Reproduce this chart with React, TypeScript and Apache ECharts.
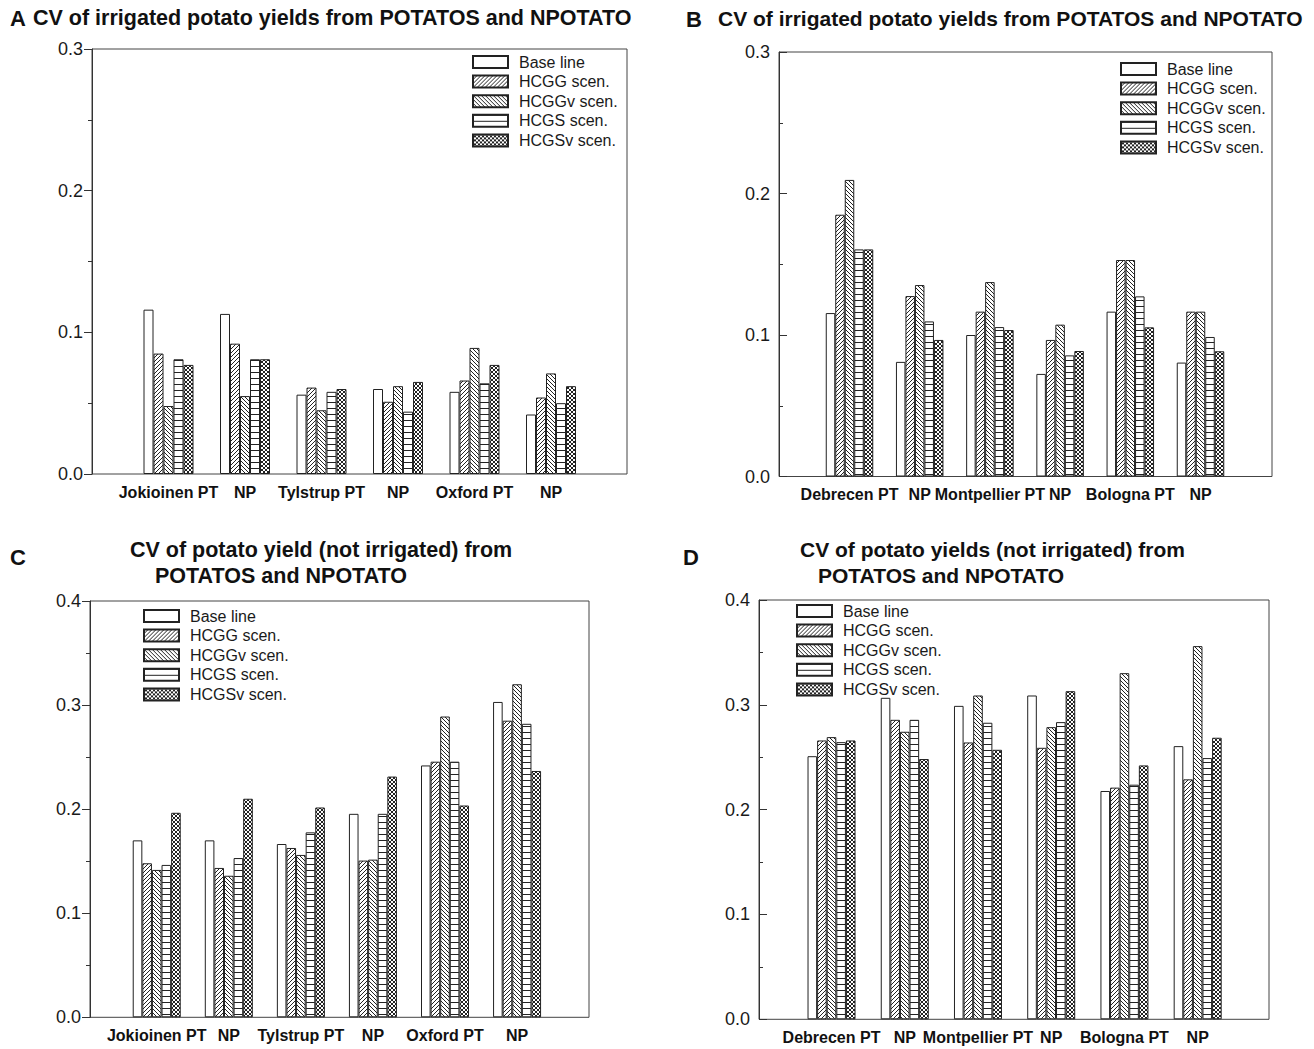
import React, { useEffect, useRef } from 'react';
import * as echarts from 'echarts';

const FONT = '"Liberation Sans", Arial, Helvetica, sans-serif';

const seriesNames = ['Base line', 'HCGG scen.', 'HCGGv scen.', 'HCGS scen.', 'HCGSv scen.'];

const catsAC = ['Jokioinen PT', 'NP', 'Tylstrup PT', 'NP', 'Oxford PT', 'NP'];
const catsBD = ['Debrecen PT', 'NP', 'Montpellier PT', 'NP', 'Bologna PT', 'NP'];

// Panel A: irrigated, northern sites
const aBase = [0.116, 0.113, 0.056, 0.06, 0.058, 0.042];
const aHCGG = [0.085, 0.092, 0.061, 0.051, 0.066, 0.054];
const aHCGGv = [0.048, 0.055, 0.045, 0.062, 0.089, 0.071];
const aHCGS = [0.081, 0.081, 0.058, 0.044, 0.064, 0.05];
const aHCGSv = [0.077, 0.081, 0.06, 0.065, 0.077, 0.062];

// Panel B: irrigated, southern sites
const bBase = [0.1155, 0.081, 0.1, 0.0725, 0.1165, 0.0805];
const bHCGG = [0.185, 0.1275, 0.1165, 0.0965, 0.153, 0.1165];
const bHCGGv = [0.2096, 0.1353, 0.1374, 0.1073, 0.153, 0.1165];
const bHCGS = [0.1605, 0.1096, 0.1056, 0.0856, 0.1273, 0.0986];
const bHCGSv = [0.1605, 0.0965, 0.1035, 0.0887, 0.1054, 0.0885];

// Panel C: not irrigated, northern sites
const cBase = [0.17, 0.17, 0.1665, 0.1955, 0.242, 0.303];
const cHCGG = [0.148, 0.1435, 0.1627, 0.1506, 0.2456, 0.285];
const cHCGGv = [0.1416, 0.136, 0.156, 0.1515, 0.289, 0.32];
const cHCGS = [0.1464, 0.153, 0.1777, 0.1955, 0.2456, 0.282];
const cHCGSv = [0.1965, 0.21, 0.2016, 0.2313, 0.2035, 0.2367];

// Panel D: not irrigated, southern sites
const dBase = [0.251, 0.3067, 0.299, 0.3089, 0.2178, 0.2606];
const dHCGG = [0.266, 0.2857, 0.2641, 0.259, 0.221, 0.2289];
const dHCGGv = [0.2692, 0.2743, 0.3089, 0.2787, 0.3302, 0.356];
const dHCGS = [0.2644, 0.2857, 0.2829, 0.2835, 0.2238, 0.2492];
const dHCGSv = [0.266, 0.2483, 0.2571, 0.313, 0.2422, 0.2686];

const yTicksIrrigated = [0, 0.1, 0.2, 0.3];
const yTicksRainfed = [0, 0.1, 0.2, 0.3, 0.4];

function makeTile(kind: string): any {
  const w = 4;
  const h = kind === 'hcgs' ? 6 : 4;
  const c = document.createElement('canvas');
  c.width = w;
  c.height = h;
  const ctx = c.getContext('2d')!;
  ctx.fillStyle = '#ffffff';
  ctx.fillRect(0, 0, w, h);
  ctx.fillStyle = '#222222';
  for (let y = 0; y < h; y++) {
    for (let x = 0; x < w; x++) {
      let on = false;
      if (kind === 'hcgg') on = x + y === 3;
      else if (kind === 'hcggv') on = x === y;
      else if (kind === 'hcgs') on = y === 0;
      else if (kind === 'hcgsv') on = x === y || x + y === 3;
      if (on) ctx.fillRect(x, y, 1, 1);
    }
  }
  return { image: c, repeat: 'repeat', imageWidth: w, imageHeight: h };
}

export default function App() {
  const ref = useRef<HTMLDivElement>(null);

  useEffect(() => {
    document.body.style.margin = '0';
    if (!ref.current) return;
    const chart = echarts.init(ref.current, undefined, { renderer: 'svg' });

    const fills: any[] = ['#ffffff', makeTile('hcgg'), makeTile('hcggv'), makeTile('hcgs'), makeTile('hcgsv')];

    const panels = [
      {
        cats: catsAC, vals: [aBase, aHCGG, aHCGGv, aHCGS, aHCGSv], ticks: yTicksIrrigated,
        frame: { l: 92, r: 627, t: 49, b: 474 }, barLeft: 130.25, barWidthAll: 459, bw: 10,
        inside: false, legend: { left: 472, top: 54 },
      },
      {
        cats: catsBD, vals: [bBase, bHCGG, bHCGGv, bHCGS, bHCGSv], ticks: yTicksIrrigated,
        frame: { l: 779, r: 1272, t: 52, b: 476.5 }, barLeft: 814.4, barWidthAll: 421.2, bw: 9.5,
        inside: true, legend: { left: 1120, top: 61 },
      },
      {
        cats: catsAC, vals: [cBase, cHCGG, cHCGGv, cHCGS, cHCGSv], ticks: yTicksRainfed,
        frame: { l: 90, r: 589, t: 601, b: 1017.3 }, barLeft: 120.7, barWidthAll: 432.4, bw: 9.6,
        inside: false, legend: { left: 143, top: 608 },
      },
      {
        cats: catsBD, vals: [dBase, dHCGG, dHCGGv, dHCGS, dHCGSv], ticks: yTicksRainfed,
        frame: { l: 759, r: 1269, t: 600, b: 1019.3 }, barLeft: 794.9, barWidthAll: 439.4, bw: 9.6,
        inside: true, legend: { left: 796, top: 603 },
      },
    ];

    const grid: any[] = [];
    const xAxis: any[] = [];
    const yAxis: any[] = [];
    const series: any[] = [];
    const legend: any[] = [];

    panels.forEach((p) => {
      const max = p.ticks[p.ticks.length - 1];
      const h = p.frame.b - p.frame.t;
      const fi = grid.length;
      grid.push({
        left: p.frame.l, top: p.frame.t, width: p.frame.r - p.frame.l, height: h,
        show: true, borderColor: '#444', borderWidth: 1, backgroundColor: 'transparent', containLabel: false,
      });
      xAxis.push({ type: 'value', gridIndex: fi, show: false, min: 0, max: 1 });
      yAxis.push({
        type: 'value', gridIndex: fi, min: 0, max, interval: 0.1,
        axisLine: { show: true, lineStyle: { color: '#333', width: 1 } },
        axisTick: { show: true, inside: p.inside, length: 8, lineStyle: { color: '#333' } },
        minorTick: { show: true, splitNumber: 2, length: 4, lineStyle: { color: '#333' } },
        splitLine: { show: false },
        axisLabel: {
          formatter: (v: number) => v.toFixed(1), fontSize: 18, color: '#1a1a1a', margin: 9, fontFamily: FONT,
        },
      });
      const bi = grid.length;
      grid.push({ left: p.barLeft, top: p.frame.t, width: p.barWidthAll, height: h, containLabel: false });
      xAxis.push({
        type: 'category', gridIndex: bi, data: p.cats,
        axisLine: { show: false }, axisTick: { show: false },
        axisLabel: { interval: 0, fontSize: 16, fontWeight: 'bold', color: '#111', margin: 10, fontFamily: FONT },
      });
      yAxis.push({ type: 'value', gridIndex: bi, min: 0, max, show: false });
      p.vals.forEach((vals, s) => {
        series.push({
          type: 'bar', name: seriesNames[s], xAxisIndex: bi, yAxisIndex: bi, data: vals,
          barWidth: p.bw, barGap: '0%', silent: true,
          itemStyle: { color: fills[s], borderColor: '#222', borderWidth: 1 },
        });
      });
      legend.push({
        orient: 'vertical', left: p.legend.left, top: p.legend.top, padding: 0,
        itemWidth: 35, itemHeight: 12, itemGap: 3.6, icon: 'rect', selectedMode: false,
        data: seriesNames,
        textStyle: { fontSize: 16, color: '#1a1a1a', lineHeight: 16, padding: [0, 0, 0, 6], fontFamily: FONT },
      });
    });

    const tStyleL = { fontSize: 21.5, fontWeight: 'bold', color: '#111', fontFamily: FONT };
    const tStyleR = { fontSize: 21, fontWeight: 'bold', color: '#111', fontFamily: FONT };
    const lStyle = { fontSize: 22, fontWeight: 'bold', color: '#111', fontFamily: FONT };
    const title = [
      { text: 'A', left: 10, top: 7, padding: 0, textStyle: lStyle },
      { text: 'CV of irrigated potato yields from POTATOS and NPOTATO', left: 33, top: 7, padding: 0, textStyle: tStyleL },
      { text: 'B', left: 686, top: 8, padding: 0, textStyle: lStyle },
      { text: 'CV of irrigated potato yields from POTATOS and NPOTATO', left: 718, top: 8, padding: 0, textStyle: tStyleR },
      { text: 'C', left: 10, top: 546, padding: 0, textStyle: lStyle },
      { text: 'CV of potato yield (not irrigated) from', left: 130, top: 539, padding: 0, textStyle: tStyleL },
      { text: 'POTATOS and NPOTATO', left: 155, top: 565, padding: 0, textStyle: tStyleL },
      { text: 'D', left: 683, top: 546, padding: 0, textStyle: lStyle },
      { text: 'CV of potato yields (not irrigated) from', left: 800, top: 539, padding: 0, textStyle: tStyleR },
      { text: 'POTATOS and NPOTATO', left: 818, top: 565, padding: 0, textStyle: tStyleR },
    ];

    chart.setOption({
      animation: false,
      backgroundColor: '#ffffff',
      textStyle: { fontFamily: FONT },
      title,
      grid,
      xAxis,
      yAxis,
      series,
      legend,
    });

    return () => chart.dispose();
  }, []);

  return <div ref={ref} style={{ width: 1314, height: 1049 }} />;
}
